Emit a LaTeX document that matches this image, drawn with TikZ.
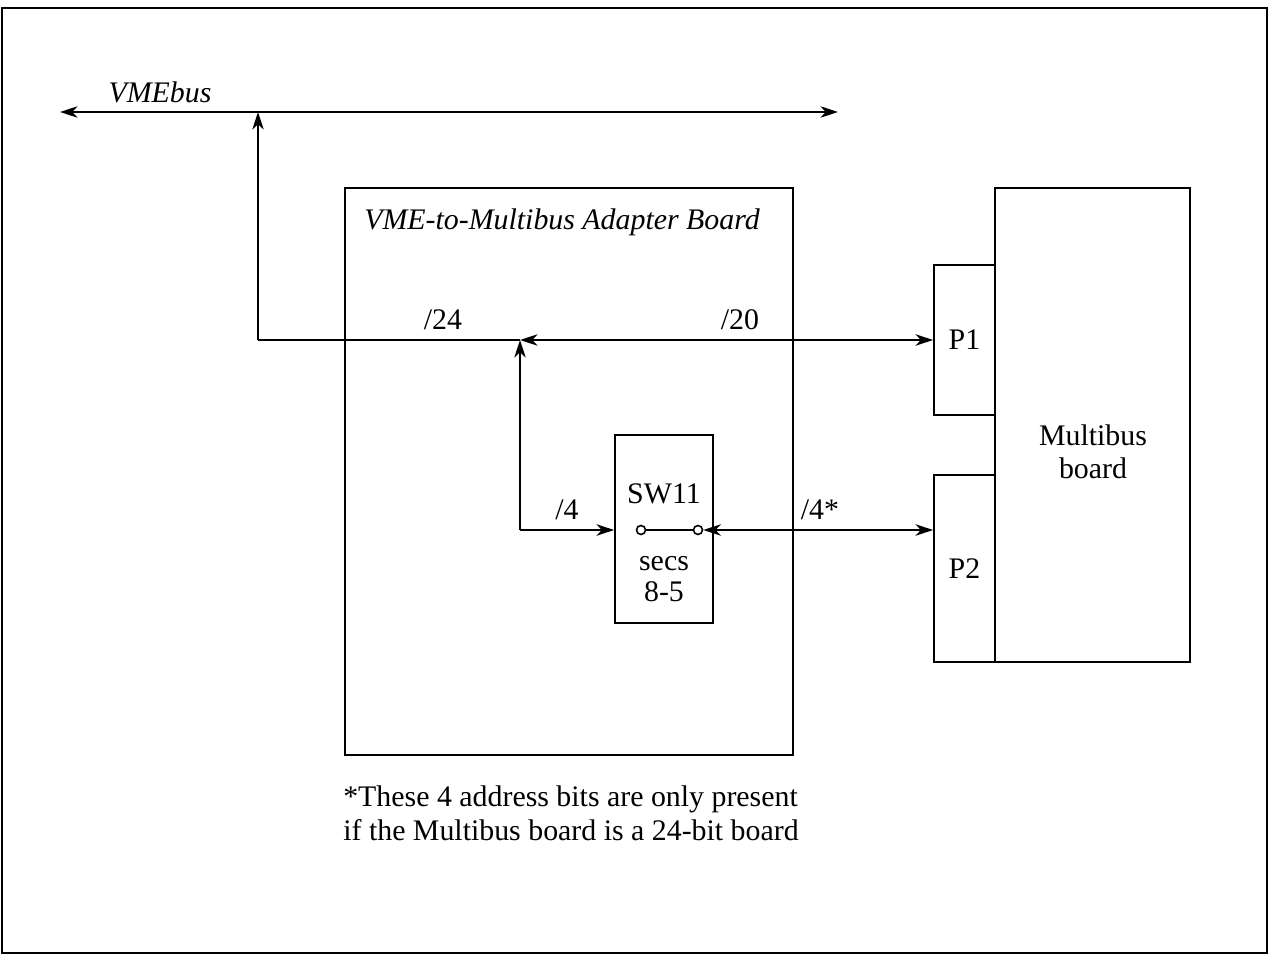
\documentclass[tikz,border=0pt]{standalone}
\usepackage{fontspec}
\setmainfont{Liberation Serif}
\usetikzlibrary{arrows.meta}
\begin{document}
\begin{tikzpicture}[x=0.02cm,y=-0.02cm,
  every node/.style={font=\fontsize{17}{19}\selectfont},
  ln/.style={line width=1pt},
  tip/.style={-{Stealth[length=10pt,width=6.5pt,inset=3pt]}},
  tips/.style={{Stealth[length=10pt,width=6.5pt,inset=3pt]}-{Stealth[length=10pt,width=6.5pt,inset=3pt]}},
  boxx/.style={draw,line width=1pt,inner sep=0pt},
  lbl/.style={inner sep=1pt}]
\useasboundingbox (0,0) rectangle (1270,955);
\draw[line width=1pt] (2,8) rectangle (1267,953);
% VMEbus
\coordinate (vl) at (60,112);
\coordinate (vr) at (838,112);
\coordinate (vj) at (258,112);
\draw[ln,tips] (vl) -- (vr);
\node[lbl,font=\fontsize{17}{19}\selectfont\itshape] (vmelbl) at (160,92) {VMEbus};
% adapter board
\node[boxx,minimum width=448*0.02cm,minimum height=567*0.02cm] (adapter) at (569,471.5) {};
\node[lbl,font=\fontsize{17}{19}\selectfont\itshape] (adlbl) at (562,222) {VME-to-Multibus Adapter Board};
% SW11
\node[boxx,minimum width=98*0.02cm,minimum height=188*0.02cm] (sw) at (664,529) {};
\node[lbl] (swlbl) at (664,494) {SW11};
\node[lbl,align=center] (secs) at (664,579) {secs\\[-1pt]8-5};
\node[draw,circle,line width=0.9pt,inner sep=0pt,minimum size=9*0.02cm,fill=white] (c1) at (641,530) {};
\node[draw,circle,line width=0.9pt,inner sep=0pt,minimum size=9*0.02cm,fill=white] (c2) at (698,530) {};
\draw[ln] (c1) -- (c2);
% Multibus board
\node[boxx,minimum width=195*0.02cm,minimum height=474*0.02cm] (mb) at (1092.5,425) {};
\node[lbl,align=center] (mblbl) at (1093,452) {Multibus\\board};
\node[boxx,minimum width=61*0.02cm,minimum height=150*0.02cm] (p1) at (964.5,340) {};
\node[lbl] at (p1) {P1};
\node[boxx,minimum width=61*0.02cm,minimum height=187*0.02cm] (p2) at (964.5,568.5) {};
\node[lbl] at (p2.center) {P2};
% connections
\coordinate (a) at (258,340);
\coordinate (j) at (520,340);
\coordinate (k) at (520,530);
\draw[ln,tip] (a) -- (vj);
\draw[ln] (a) -- (j);
\draw[ln,tips] (j) -- (p1.west);
\draw[ln,tip] (k) -- (j);
\draw[ln,tip] (k) -- (sw.west |- k);
\draw[ln,tips] (c2.east) -- (p2.west |- c2);
\node[lbl] (l24) at (443,320) {/24};
\node[lbl] (l20) at (740,320) {/20};
\node[lbl] (l4) at (567,510) {/4};
\node[lbl] (l4s) at (820,510) {/4*};
% footnote
\node[lbl,align=left] (note) at (571,813) {*These 4 address bits are only present\\[0.5pt]if the Multibus board is a 24-bit board};
\end{tikzpicture}
\end{document}
